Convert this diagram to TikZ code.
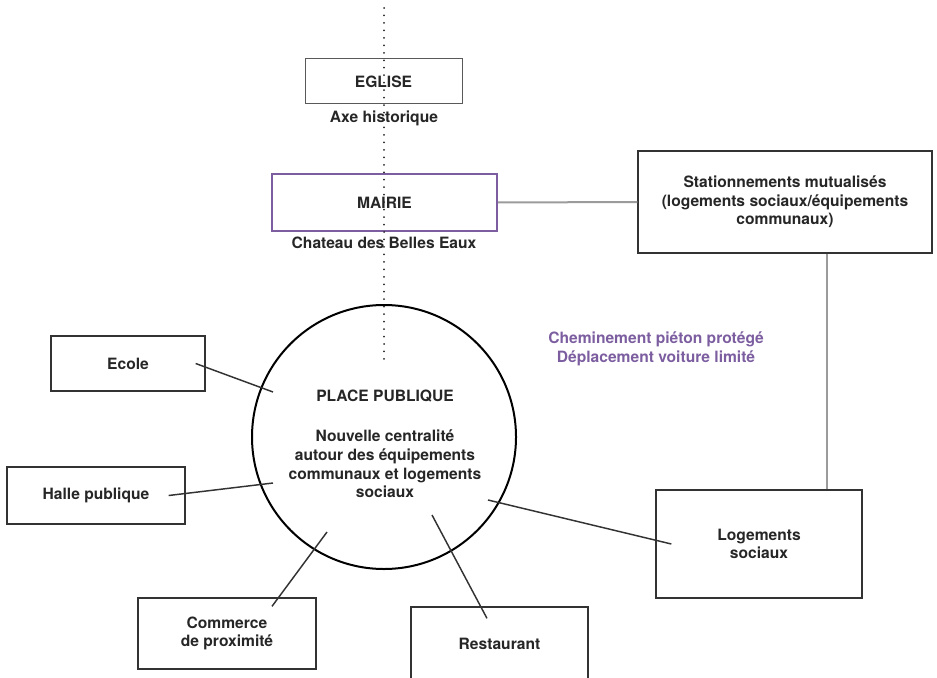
\documentclass[tikz,border=0pt]{standalone}
\usepackage{fontspec}
\setmainfont{TeX Gyre Heros}
\usetikzlibrary{positioning}
\definecolor{mauve}{RGB}{124,94,160}
\definecolor{trait}{RGB}{51,51,51}
\definecolor{gristrait}{RGB}{155,155,155}

\begin{document}
\begin{tikzpicture}[x=0.75pt, y=-0.75pt, font=\fontsize{11.7}{14}\selectfont\bfseries, text=black!85, align=center]
    \tikzset{%
      boite/.style={draw=trait, line width=1pt, inner sep=0pt},
      bmairie/.style={boite, draw=mauve, line width=1.5pt},
      rayon/.style={draw=trait, line width=1.1pt},
      liengris/.style={draw=gristrait, line width=1.5pt},
      axe/.style={draw=black!85, line width=1.5pt, dash pattern=on 0pt off 5.6pt, line cap=round}
      }
    \clip (0,0) rectangle (937,677);

    \node [boite, draw=black!65, line width=0.75pt, minimum width=117.75pt, minimum height=33.75pt] (Yeglise) at (383.5,81.5) {EGLISE};
    \node (Yaxe) at (384,118) {Axe historique};

    \node [bmairie, minimum width=168.75pt, minimum height=42.75pt] (Ymairie) at (384.5,202.5) {MAIRIE};
    \node (Ychateau) at (384,243) {Chateau des Belles Eaux};

    \node [boite, minimum width=220.5pt, minimum height=76.5pt] (Ystat) at (785,202) {Stationnements mutualisés\\(logements sociaux/équipements\\communaux)};
    \draw [liengris] (Ymairie.east) -- (Ystat.west);

    \node [circle, draw=black, line width=1.5pt, minimum size=198pt, inner sep=0pt] (Yplace) at (384,437) {};
    \node (Ytplace) at (385,444) {PLACE PUBLIQUE\\[16pt]Nouvelle centralité\\autour des équipements\\communaux et logements\\sociaux};

    \node [text=mauve] (Ychemin) at (656,349) {Cheminement piéton protégé\\Déplacement voiture limité};

    \node [boite, minimum width=115.5pt, minimum height=41.25pt] (Yecole) at (128,363.5) {Ecole};
    \node [boite, minimum width=133.5pt, minimum height=42.75pt] (Yhalle) at (96,495.5) {Halle publique};
    \node [boite, minimum width=133.5pt, minimum height=53.25pt] (Ycomm) at (227,633.5) {Commerce\\de proximité};
    \node [boite, minimum width=132.75pt, minimum height=54.75pt] (Yresto) at (499.5,643.5) {Restaurant};
    \node [boite, minimum width=154.5pt, minimum height=81pt] (Ylog) at (759,544) {Logements\\sociaux};

    \coordinate (Cecole) at (273,392);
    \coordinate (Challe) at (273,483);
    \coordinate (Ccomm) at (327,532);
    \coordinate (Cresto) at (432,515);
    \coordinate (Clog) at (488,500);

    \draw [rayon] ([xshift=-7.5pt]Yecole.east) -- (Cecole);
    \draw [rayon] ([xshift=-12.75pt]Yhalle.east) -- (Challe);
    \draw [rayon] ([xshift=33.75pt, yshift=-6.75pt]Ycomm.north) -- (Ccomm);
    \draw [rayon] ([xshift=-9.4pt, yshift=-9pt]Yresto.north) -- (Cresto);
    \draw [rayon] ([xshift=12pt]Ylog.west) -- (Clog);

    \draw [liengris] ([xshift=31.5pt]Ystat.south) coordinate (Ppark) -- (Ppark |- Ylog.north);

    \coordinate (Axhaut) at (384,8);
    \coordinate (Axbas) at (384,363);
    \draw [axe] (Axhaut) -- (Axbas);

  \end{tikzpicture}
\end{document}
